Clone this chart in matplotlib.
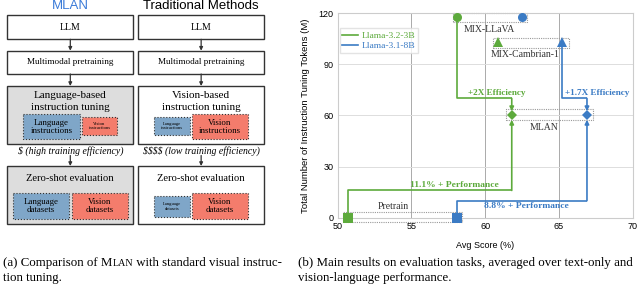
import matplotlib
matplotlib.use("Agg")
import matplotlib.pyplot as plt
from matplotlib.patches import Rectangle
from matplotlib.lines import Line2D

# ---------------- data ----------------
models = ["Llama-3.2-3B", "Llama-3.1-8B"]
colors = ["#5DAA3C", "#3B7BC4"]
methods = ["Pretrain", "MLAN", "MIX-LLaVA", "MIX-Cambrian-1"]
avg_score = {"Llama-3.2-3B": [50.7, 61.8, 58.1, 60.9],
             "Llama-3.1-8B": [58.1, 66.9, 62.5, 65.2]}
tokens = {"Llama-3.2-3B": [0, 60, 118, 103],
          "Llama-3.1-8B": [0, 60, 118, 103]}
markers = ["s", "D", "o", "^"]
perf_gain = ["11.1% + Performance", "8.8% + Performance"]
eff_gain = ["+2X Efficiency", "+1.7X Efficiency"]
x_ticks = [50, 55, 60, 65, 70]
y_ticks = [0, 30, 60, 90, 120]

SERIF = "Liberation Serif"
SANS = "Liberation Sans"

fig = plt.figure(figsize=(6.4, 2.84), dpi=100)

# ---------------- left diagram (pixel coords) ----------------
d = fig.add_axes([0, 0, 1, 1])
d.set_xlim(0, 640)
d.set_ylim(284, 0)
d.axis("off")

BLUE_BOX = "#7FA6C8"
RED_BOX = "#F47C6C"
GRAY_BG = "#DDDDDD"
EDGE = "#333333"


def box(x0, y0, x1, y1, fc="white", ls="-", lw=1.0, ec=EDGE):
    d.add_patch(Rectangle((x0, y0), x1 - x0, y1 - y0, facecolor=fc,
                          edgecolor=ec, linestyle=ls, linewidth=lw))


def arrow(x, y0, y1):
    d.annotate("", xy=(x, y1), xytext=(x, y0),
               arrowprops=dict(arrowstyle="-|>", color=EDGE, lw=0.9,
                               mutation_scale=5, shrinkA=0, shrinkB=0))


cols = [(7.3, 133.3), (138.3, 264.0)]
d.text(70.3, 6, "MLAN", color="#3B7BD8", fontsize=9.5, family=SANS,
       ha="center", va="center")
d.text(201, 6, "Traditional Methods", color="black", fontsize=9.5,
       family=SANS, ha="center", va="center")

for i, (x0, x1) in enumerate(cols):
    cx = (x0 + x1) / 2
    bg = GRAY_BG if i == 0 else "white"
    box(x0, 15, x1, 39.3)
    d.text(cx, 27.5, "LLM", family=SERIF, fontsize=7, ha="center", va="center")
    arrow(cx, 39.3, 50.7)
    box(x0, 50.7, x1, 74)
    d.text(cx, 62.5, "Multimodal pretraining", family=SERIF, fontsize=6.6,
           ha="center", va="center")
    arrow(cx, 74, 86)
    box(x0, 86, x1, 144, fc=bg)
    d.text(cx, 96, "Language-based" if i == 0 else "Vision-based",
           family=SERIF, fontsize=8, ha="center", va="center")
    d.text(cx, 107, "instruction tuning", family=SERIF, fontsize=8,
           ha="center", va="center")
    d.text(cx, 151.5, r"\$ (high training efficiency)" if i == 0 else
           r"\$\$\$\$ (low training efficiency)", family=SERIF, style="italic",
           fontsize=7, ha="center", va="center")
    arrow(cx, 155.5, 166)
    box(x0, 166, x1, 224, fc=bg)
    d.text(cx, 178.5, "Zero-shot evaluation", family=SERIF, fontsize=7.6,
           ha="center", va="center")

# inner boxes - left column
box(23.3, 114.3, 80, 139.3, fc=BLUE_BOX, ls=":", lw=0.8)
d.text(51.6, 126.8, "Language\ninstructions", family=SERIF, fontsize=6.4,
       ha="center", va="center", linespacing=1.0)
box(81.7, 117.3, 117.3, 135, fc=RED_BOX, ls=":", lw=0.8)
d.text(99.5, 126.2, "Vision\ninstructions", family=SERIF, fontsize=3.3,
       ha="center", va="center", linespacing=1.1)
box(12.7, 193.3, 69.3, 219, fc=BLUE_BOX, ls=":", lw=0.8)
d.text(41, 206.2, "Language\ndatasets", family=SERIF, fontsize=6.4,
       ha="center", va="center", linespacing=1.0)
box(71.7, 193.3, 127.7, 219, fc=RED_BOX, ls=":", lw=0.8)
d.text(99.7, 206.2, "Vision\ndatasets", family=SERIF, fontsize=6.4,
       ha="center", va="center", linespacing=1.0)

# inner boxes - right column
box(153.5, 116.7, 190, 135, fc=BLUE_BOX, ls=":", lw=0.8)
d.text(171.8, 125.9, "Language\ninstructions", family=SERIF, fontsize=3.3,
       ha="center", va="center", linespacing=1.1)
box(191.5, 114.3, 247.5, 139.3, fc=RED_BOX, ls=":", lw=0.8)
d.text(219.5, 126.8, "Vision\ninstructions", family=SERIF, fontsize=6.4,
       ha="center", va="center", linespacing=1.0)
box(153.5, 196, 190, 217.3, fc=BLUE_BOX, ls=":", lw=0.8)
d.text(171.8, 206.6, "Language\ndatasets", family=SERIF, fontsize=3.3,
       ha="center", va="center", linespacing=1.1)
box(191.5, 192.7, 247.5, 219, fc=RED_BOX, ls=":", lw=0.8)
d.text(219.5, 205.9, "Vision\ndatasets", family=SERIF, fontsize=6.4,
       ha="center", va="center", linespacing=1.0)

# captions with small-caps MLAN
renderer = fig.canvas.get_renderer()


def runs(x, y, parts):
    for s, fs in parts:
        t = d.text(x, y, s, family=SERIF, fontsize=fs, ha="left",
                   va="baseline")
        bb = t.get_window_extent(renderer=renderer)
        x += bb.width


CAP = 9.3
runs(3, 266, [("(a) Comparison of M", CAP), ("LAN", CAP * 0.77),
              (" with standard visual instruc-", CAP)])
runs(3, 281, [("tion tuning.", CAP)])
runs(298, 266, [("(b) Main results on evaluation tasks, averaged over text-only and", CAP)])
runs(298, 281, [("vision-language performance.", CAP)])

# ---------------- right chart ----------------
ax = fig.add_axes([337.7 / 640, 1 - 217.7 / 284, 295 / 640, 204.4 / 284])
ax.set_xlim(50, 70)
ax.set_ylim(0, 120)
ax.set_xticks(x_ticks)
ax.set_yticks(y_ticks)
ax.tick_params(labelsize=6.5, length=0, pad=3)
for lab in ax.get_xticklabels() + ax.get_yticklabels():
    lab.set_family(SANS)
for s in ax.spines.values():
    s.set_color("#CCCCCC")
    s.set_linewidth(0.8)
ax.xaxis.grid(True, color="#AAAAAA", lw=0.7)
ax.yaxis.grid(True, color="#DDDDDD", lw=0.7)
ax.set_axisbelow(True)
ax.set_xlabel("Avg Score (%)", family=SANS, fontsize=6.5, labelpad=7)
ax.set_ylabel("Total Number of Instruction Tuning Tokens (M)", family=SANS,
              fontsize=6.8)
ax.yaxis.set_label_coords(-0.095, 0.5)

# dotted group boxes around each method pair
pads = {"Pretrain": (0.35, 0.35, 2.4, 3.5), "MLAN": (0.4, 0.4, 2.6, 3.8),
        "MIX-LLaVA": (0.3, 0.35, 3.2, 2.3), "MIX-Cambrian-1": (0.35, 0.5, 3.4, 2.3)}
for j, m in enumerate(methods):
    xs = [avg_score[k][j] for k in models]
    ys = [tokens[k][j] for k in models]
    pl, pr, pb, pt = pads[m]
    ax.add_patch(Rectangle((min(xs) - pl, min(ys) - pb),
                           max(xs) - min(xs) + pl + pr,
                           max(ys) - min(ys) + pb + pt,
                           fill=False, edgecolor="#999999", ls=(0, (1, 1)),
                           lw=0.8, clip_on=False, zorder=2))

# connecting paths with arrows
perf_y = [16, 10]
eff_y = [70, 70]
for k, m in enumerate(models):
    c = colors[k]
    xs, ys = avg_score[m], tokens[m]
    # pretrain -> MLAN
    ax.plot([xs[0], xs[0], xs[1], xs[1]], [ys[0], perf_y[k], perf_y[k], perf_y[k]],
            color=c, lw=1.2, zorder=3, solid_capstyle="butt", clip_on=False)
    ax.annotate("", xy=(xs[1], ys[1] - 2.5), xytext=(xs[1], perf_y[k]),
                arrowprops=dict(arrowstyle="-|>", color=c, lw=1.2,
                                mutation_scale=6, shrinkA=0, shrinkB=0),
                zorder=3)
    # mixture baseline -> MLAN
    src = 2 if k == 0 else 3
    ax.plot([xs[src], xs[src], xs[1]], [ys[src], eff_y[k], eff_y[k]],
            color=c, lw=1.2, zorder=3, solid_capstyle="butt")
    ax.annotate("", xy=(xs[1], ys[1] + 2.5), xytext=(xs[1], eff_y[k]),
                arrowprops=dict(arrowstyle="-|>", color=c, lw=1.2,
                                mutation_scale=6, shrinkA=0, shrinkB=0),
                zorder=3)
    for j in range(len(methods)):
        ms = 6.5 if markers[j] != "D" else 5.2
        ax.plot(xs[j], ys[j], marker=markers[j], color=c, ms=ms, ls="none",
                zorder=4, clip_on=False, markeredgewidth=0)

# method labels
ax.text(60.3, 110.5, "MIX-LLaVA", family=SERIF, fontsize=7, color="#333333",
        ha="center", va="center", zorder=5)
ax.text(62.7, 96, "MIX-Cambrian-1", family=SERIF, fontsize=7, color="#333333",
        ha="center", va="center", zorder=5)
ax.text(64.0, 53, "MLAN", family=SERIF, fontsize=7, color="#333333",
        ha="center", va="center", zorder=5)
ax.text(53.8, 6.3, "Pretrain", family=SERIF, fontsize=7, color="#333333",
        ha="center", va="center", zorder=5)

# gain labels
ax.text(60.75, 70.6, eff_gain[0], family=SERIF, fontsize=6.6, weight="bold",
        color=colors[0], ha="center", va="bottom", zorder=5)
ax.text(67.6, 70.6, eff_gain[1], family=SERIF, fontsize=6.6, weight="bold",
        color=colors[1], ha="center", va="bottom", zorder=5)
ax.text(57.9, 16.6, perf_gain[0], family=SERIF, fontsize=6.8, weight="bold",
        color=colors[0], ha="center", va="bottom", zorder=5)
ax.text(62.8, 9.0, perf_gain[1], family=SERIF, fontsize=6.8, weight="bold",
        color=colors[1], ha="center", va="top", zorder=5)

handles = [Line2D([0], [0], color=c, lw=1.2) for c in colors]
leg = ax.legend(handles, models, loc="upper left",
                bbox_to_anchor=(0.0, 0.935), prop={"family": SERIF, "size": 6.8},
                frameon=True, fancybox=False, edgecolor="#DDDDDD",
                handlelength=1.6, handletextpad=0.4, borderpad=0.3,
                labelspacing=0.2, borderaxespad=0.2)
for t, c in zip(leg.get_texts(), colors):
    t.set_color(c)

fig.savefig("out.png", dpi=100)
